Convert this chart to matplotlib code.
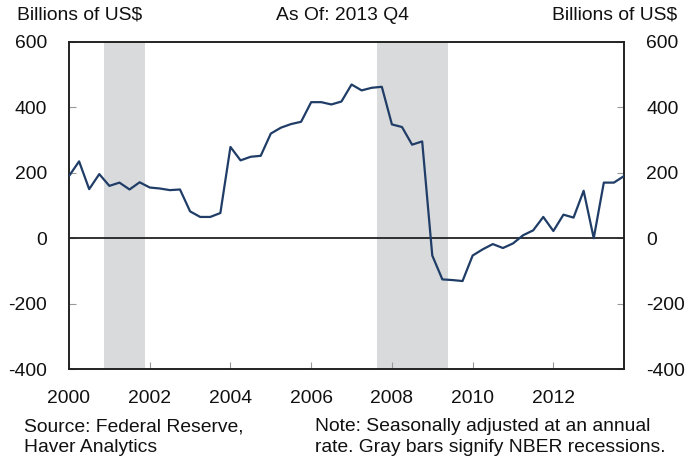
import numpy as np
import matplotlib
matplotlib.use("Agg")
import matplotlib.pyplot as plt

plt.rcParams['font.family'] = ['Liberation Sans', 'DejaVu Sans']

# quarterly values, 2000 Q1 .. 2013 Q4 (billions of US$)
values = [190, 235, 150, 196, 160, 170, 149, 171,
          155, 152, 147, 149, 82, 65, 65, 77,
          279, 238, 249, 252, 320, 338, 349, 356,
          416, 416, 409, 418, 470, 452, 460, 463,
          348, 340, 286, 296, -53, -126, -128, -131,
          -53, -34, -18, -30, -16, 9, 24, 65,
          22, 72, 63, 145, 0, 170, 170, 190]
start_year = 2000
recessions = [(2000.87, 2001.88), (2007.62, 2009.38)]
x_ticks = [2000, 2002, 2004, 2006, 2008, 2010, 2012]
y_ticks = [-400, -200, 0, 200, 400, 600]

dates = start_year + np.arange(len(values)) * 0.25
FS = 13.9

fig = plt.figure(figsize=(6.87, 4.58), dpi=100)
ax = fig.add_axes([69 / 687, 1 - 369 / 458, 555 / 687, 327 / 458])

for a, b in recessions:
  ax.axvspan(a, b, color='#d9dadc', lw=0, zorder=1)
ax.axhline(0, color='#222222', lw=1.3, zorder=2)
ax.plot(dates, values, color='#1f3d66', lw=1.6, zorder=3)

ax.set_xlim(dates[0], dates[-1])
ax.set_ylim(-400, 600)
ax.set_xticks(x_ticks)
ax.set_yticks(y_ticks)
ax.set_yticklabels([str(v) for v in y_ticks])

for s in ax.spines.values():
  s.set_linewidth(1.4)
  s.set_color('#222222')

ax.tick_params(axis='both', direction='in', length=5, width=0.8,
               color='#999999', labelsize=FS, labelcolor='#111111')
ax.tick_params(axis='y', right=True, labelright=True, pad=16)
ax.tick_params(axis='x', pad=15)

fig.text(17 / 687, 1 - 15 / 458, 'Billions of US$', fontsize=FS,
         ha='left', va='center', color='#111111')
fig.text(343 / 687, 1 - 15 / 458, 'As Of: 2013 Q4', fontsize=FS,
         ha='center', va='center', color='#111111')
fig.text(677 / 687, 1 - 15 / 458, 'Billions of US$', fontsize=FS,
         ha='right', va='center', color='#111111')

fig.text(24 / 687, 1 - 437 / 458, 'Source: Federal Reserve,\nHaver Analytics',
         fontsize=FS, ha='left', va='center', linespacing=1.25, color='#111111')
fig.text(315 / 687, 1 - 437 / 458,
         'Note: Seasonally adjusted at an annual\nrate. Gray bars signify NBER recessions.',
         fontsize=FS, ha='left', va='center', linespacing=1.25, color='#111111')

fig.savefig('out.png', dpi=100)
